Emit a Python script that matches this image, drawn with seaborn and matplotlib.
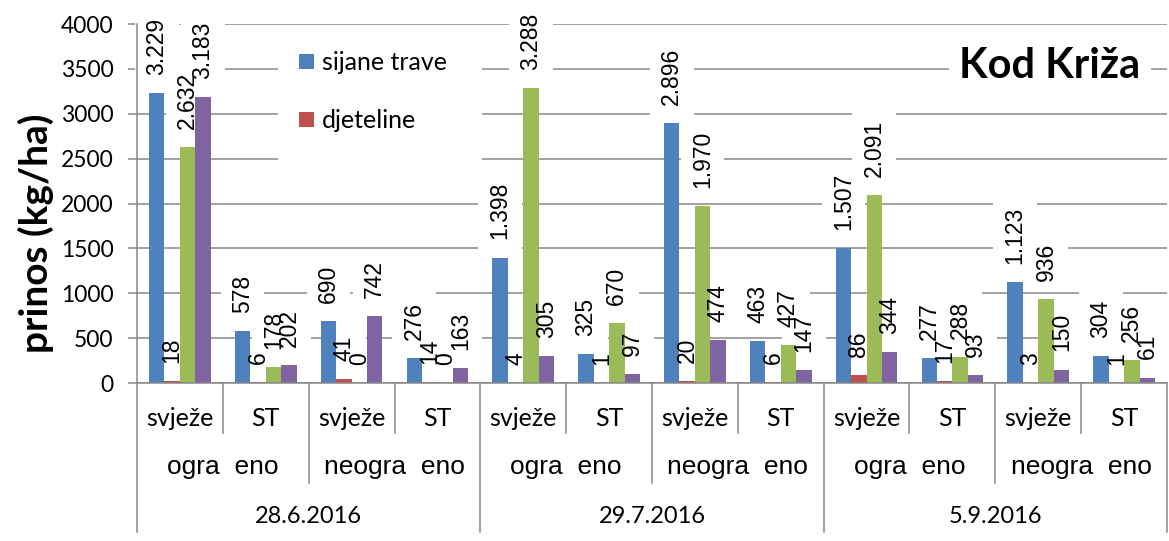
import matplotlib
matplotlib.use("Agg")
import matplotlib.pyplot as plt
from matplotlib.patches import Patch, Rectangle
import pandas as pd
import seaborn as sns

# Category levels (innermost first on the axis)
dates = ["28.6.2016", "29.7.2016", "5.9.2016"]
fencing = ["ogra  eno", "neogra  eno"]
samples = ["svježe", "ST"]

# Yield per category, kg/ha
series_names = ["sijane trave", "djeteline", "serija 3", "serija 4"]
sijane_trave = [3229, 578, 690, 276, 1398, 325, 2896, 463, 1507, 277, 1123, 304]
djeteline = [18, 6, 41, 14, 4, 1, 20, 6, 86, 17, 3, 1]
serija_3 = [2632, 178, 0, 0, 3288, 670, 1970, 427, 2091, 288, 936, 256]
serija_4 = [3183, 202, 742, 163, 305, 97, 474, 147, 344, 93, 150, 61]
yticks = [0, 500, 1000, 1500, 2000, 2500, 3000, 3500, 4000]

colors = ["#4F81BD", "#C0504D", "#9BBB59", "#8064A2"]
GRID = "#878787"

categories = [f"{d}|{f}|{s}" for d in dates for f in fencing for s in samples]
values = [sijane_trave, djeteline, serija_3, serija_4]
df = pd.DataFrame(
    [
        {"kategorija": c, "serija": name, "prinos": vals[i]}
        for name, vals in zip(series_names, values)
        for i, c in enumerate(categories)
    ]
)

W, H = 1169, 541
fig = plt.figure(figsize=(W / 100, H / 100), dpi=100)
ax = fig.add_axes([137 / W, (H - 383) / H, 1030 / W, 359 / H])

sns.barplot(
    data=df, x="kategorija", y="prinos", hue="serija",
    order=categories, hue_order=series_names, palette=colors,
    width=0.72, saturation=1, errorbar=None, linewidth=0,
    legend=False, ax=ax,
)

ax.set_xlim(-0.5, len(categories) - 0.5)
ax.set_ylim(0, 4000)
ax.set_yticks(yticks)
ax.set_axisbelow(True)
ax.grid(axis="y", color=GRID, lw=1.1)
ax.grid(axis="x", visible=False)
for side in ("top", "right"):
    ax.spines[side].set_visible(False)
for side in ("left", "bottom"):
    ax.spines[side].set_color(GRID)
    ax.spines[side].set_linewidth(1.1)
ax.tick_params(axis="y", length=6.5, width=1.1, color=GRID, pad=10.5,
               labelsize=16.5)
for t in ax.get_yticklabels():
    t.set_family("Lato")
ax.tick_params(axis="x", length=0, labelbottom=False)
ax.set_xlabel("")
ax.set_ylabel("")


def fmt(v):
    return f"{int(round(v)):,}".replace(",", ".")


# Value labels: white backing boxes below the bars, text above everything
for cont in ax.containers:
    for bar in cont:
        x = bar.get_x() + bar.get_width() / 2
        h = bar.get_height()
        common = dict(xy=(x, h), xytext=(0, 13), textcoords="offset points",
                      rotation=90, ha="center", va="bottom", fontsize=16.5,
                      family="Liberation Sans")
        ax.annotate(fmt(h), color="white", zorder=0.8,
                    bbox=dict(boxstyle="square,pad=0.45", fc="white", ec="none"),
                    **common)
        ax.annotate(fmt(h), color="black", zorder=3, **common)

# Multi-level category axis
trans = ax.get_xaxis_transform()
row_y = [-0.0975, -0.234, -0.373]
row_end = [-0.139, -0.279, -0.415]
n = len(categories)
for i in range(n):
    ax.text(i, row_y[0], samples[i % 2], transform=trans, ha="center",
            va="center", fontsize=18, family="Lato")
for i in range(n // 2):
    ax.text(2 * i + 0.5, row_y[1], fencing[i % 2], transform=trans,
            ha="center", va="center", fontsize=19, family="Liberation Sans")
for i, d in enumerate(dates):
    ax.text(4 * i + 1.5, row_y[2], d, transform=trans, ha="center",
            va="center", fontsize=17, family="Lato")
for b in range(n + 1):
    depth = row_end[2] if b % 4 == 0 else (row_end[1] if b % 2 == 0 else row_end[0])
    ax.plot([b - 0.5, b - 0.5], [0, depth], transform=trans, clip_on=False,
            color=GRID, lw=1.1)

# Legend area (first two series) on a white panel over the gridlines
ax.add_patch(Rectangle((0.137, 0.565), 0.198, 0.41, transform=ax.transAxes,
                       facecolor="white", edgecolor="none", zorder=0.9))
handles = [Patch(facecolor=colors[k], label=series_names[k]) for k in range(2)]
ax.legend(handles=handles, loc="upper left", bbox_to_anchor=(0.137, 0.983),
          frameon=False, prop=dict(family="Lato", size=18),
          handlelength=0.6, handleheight=0.6, handletextpad=0.3,
          labelspacing=1.4, borderpad=0.85, borderaxespad=0)

ax.text(0.886, 0.883, "Kod Križa", transform=ax.transAxes, ha="center",
        va="center", fontsize=30, fontweight="bold", family="Lato", zorder=4,
        bbox=dict(boxstyle="square,pad=0.25", fc="white", ec="none"))

fig.text(36 / W, 1 - 233 / H, "prinos (kg/ha)", rotation=90, ha="center",
         va="center", fontsize=28, fontweight="bold", family="Lato")

fig.savefig("out.png", dpi=100)
